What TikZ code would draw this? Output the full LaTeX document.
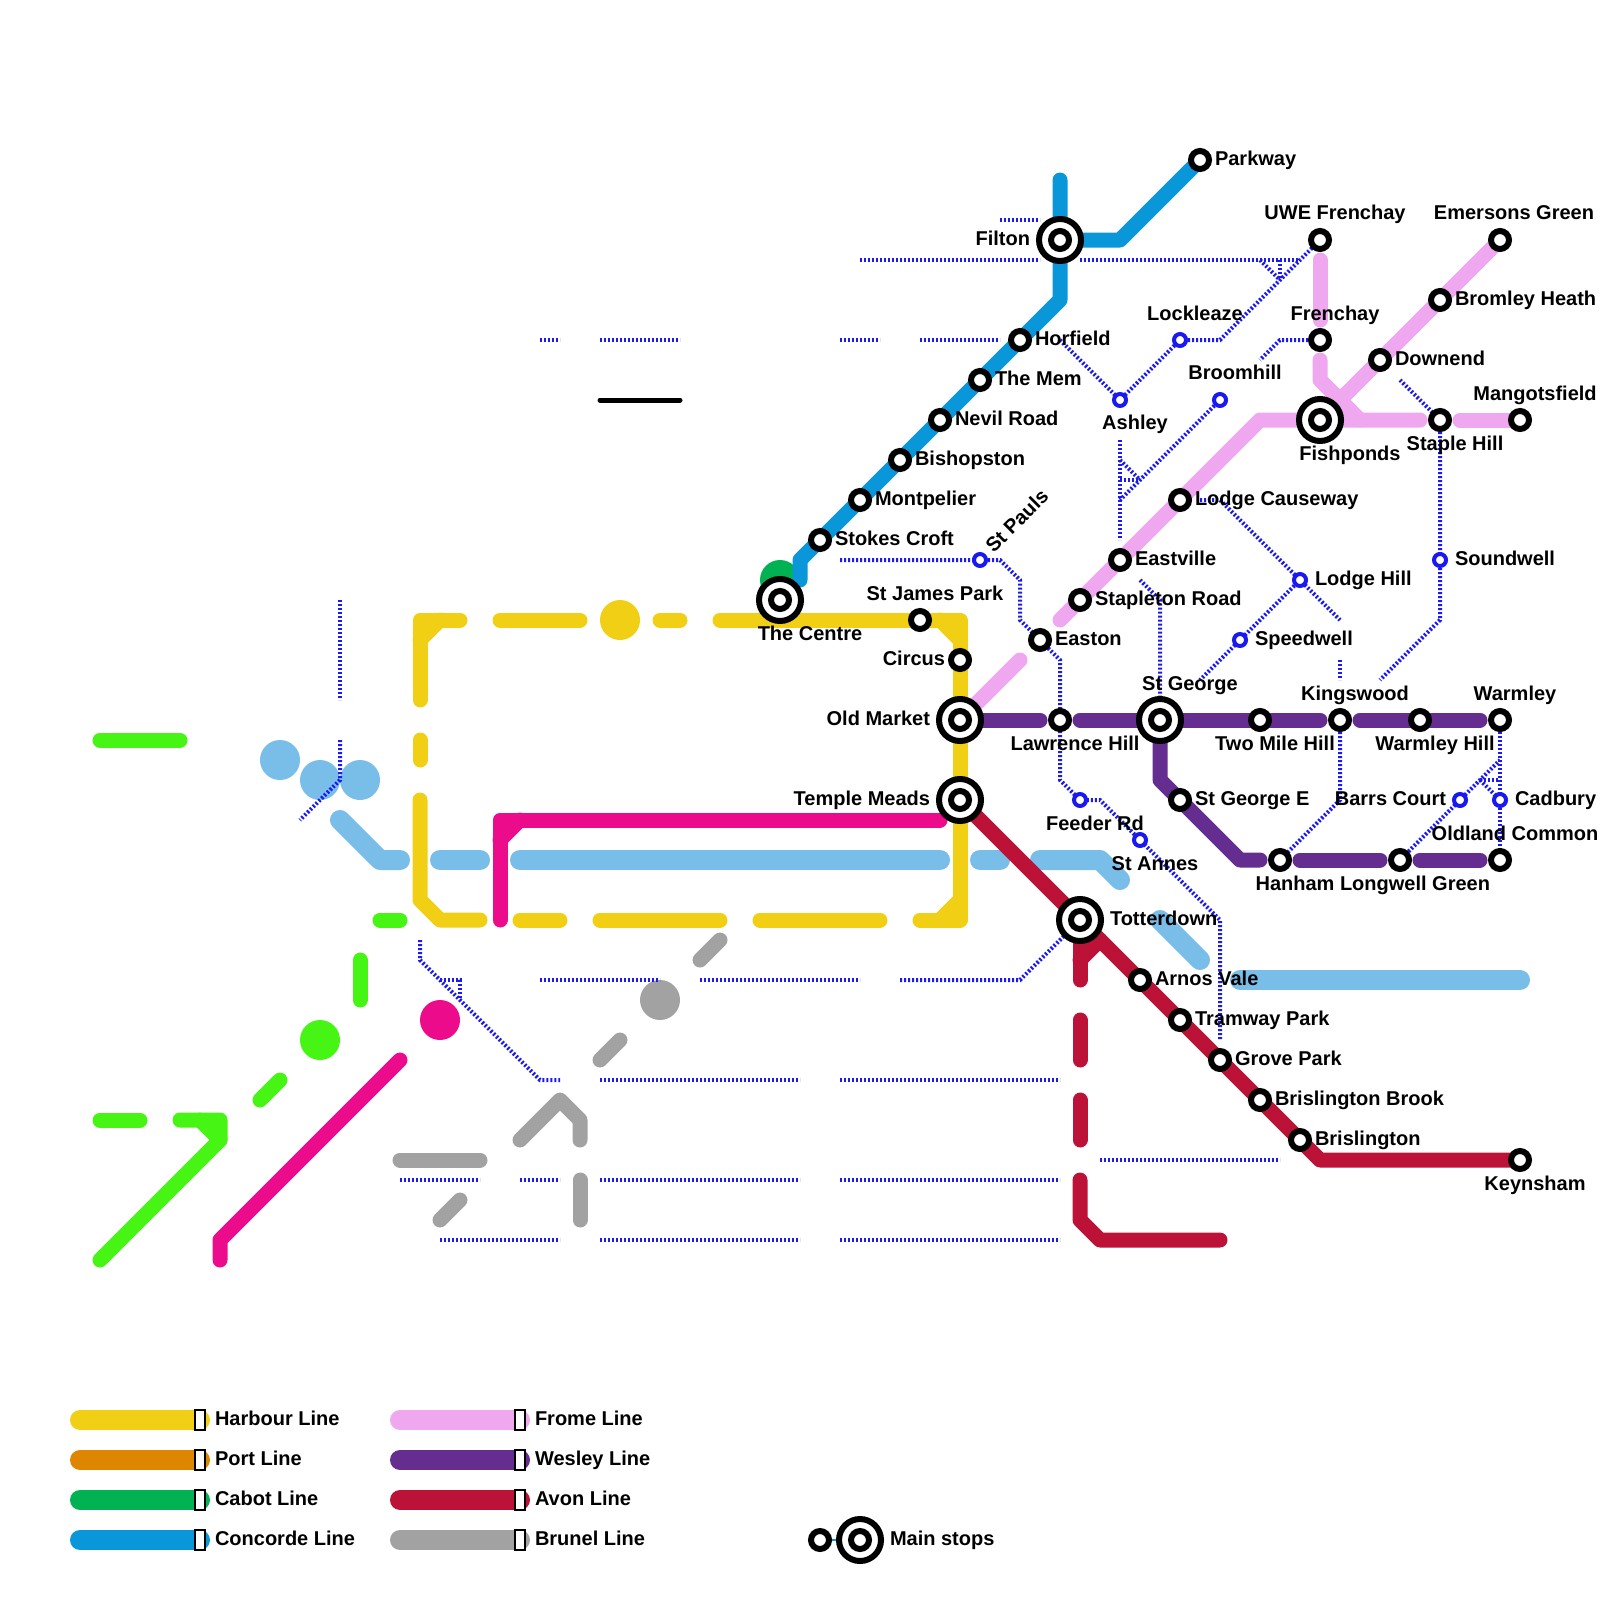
\documentclass[tikz,border=0pt]{standalone}
\usepackage{fontspec}
\setmainfont{Liberation Sans}[BoldFont={Liberation Sans Bold}]
\definecolor{cHarbour}{HTML}{F0CF15}
\definecolor{cPort}{HTML}{DF8600}
\definecolor{cCabot}{HTML}{00B251}
\definecolor{cConcorde}{HTML}{0A97D9}
\definecolor{cFrome}{HTML}{EFA7F0}
\definecolor{cWesley}{HTML}{662D91}
\definecolor{cAvon}{HTML}{BC1238}
\definecolor{cBrunel}{HTML}{A2A2A2}
\definecolor{cMagenta}{HTML}{EC0B8B}
\definecolor{cSky}{HTML}{79BDE9}
\definecolor{cLime}{HTML}{46F513}
\definecolor{cDot}{HTML}{1A1AF0}
\tikzset{
  ln/.style={line width=15pt,line cap=round,line join=round},
  wide/.style={line width=20pt,line cap=round,line join=round},
  dot/.style={draw=cDot,line width=4pt,dash pattern=on 2pt off 2pt},
  blob/.style={circle,minimum size=40pt,inner sep=0pt,outer sep=0pt,draw=none},
  stopsmall/.style={circle,draw=black,fill=white,line width=6pt,minimum size=18pt,inner sep=0pt,outer sep=0pt},
  stopbig/.style={circle,draw=black,fill=white,line width=6pt,minimum size=42pt,inner sep=0pt,outer sep=0pt},
  stopblue/.style={circle,draw=cDot,fill=white,line width=4pt,minimum size=12pt,inner sep=0pt,outer sep=0pt},
  lab/.style={font=\fontsize{20pt}{22pt}\selectfont\bfseries,inner sep=0pt,outer sep=0pt,text=black,yshift=-5pt},
  rl/.style={lab,anchor=mid west},
  ll/.style={lab,anchor=mid east},
  cl/.style={lab,anchor=mid},
  key/.style={line width=20pt,line cap=round},
  keybox/.style={draw=black,fill=white,line width=2pt,minimum width=10pt,minimum height=20pt,inner sep=0pt,outer sep=0pt},
}
\begin{document}
\begin{tikzpicture}[x=1pt,y=-1pt]
\useasboundingbox (0,0) rectangle (1600,1600);
% stations
\foreach \n/\p in {parkway/{1200,160},filton/{1060,240},uwe/{1320,240},emersons/{1500,240},bromley/{1440,300},frenchay/{1320,340},horfield/{1020,340},lockleaze/{1180,340},mem/{980,380},ashley/{1120,400},broomhill/{1220,400},downend/{1380,360},fishponds/{1320,420},staple/{1440,420},mangots/{1520,420},nevil/{940,420},bishopston/{900,460},montpelier/{860,500},lodgec/{1180,500},stokes/{820,540},stpauls/{980,560},eastville/{1120,560},soundwell/{1440,560},lodgeh/{1300,580},stapleton/{1080,600},centre/{780,600},stjames/{920,620},speedwell/{1240,640},easton/{1040,640},circus/{960,660},oldmarket/{960,720},lawrence/{1060,720},stgeorge/{1160,720},twomile/{1260,720},kingswood/{1340,720},warmleyh/{1420,720},warmley/{1500,720},temple/{960,800},feeder/{1080,800},stgeorgee/{1180,800},barrs/{1460,800},cadbury/{1500,800},stannes/{1140,840},hanham/{1280,860},longwell/{1400,860},oldland/{1500,860},totter/{1080,920},arnos/{1140,980},tramway/{1180,1020},grove/{1220,1060},brisb/{1260,1100},bris/{1300,1140},keynsham/{1520,1160}}
  {\coordinate (\n) at (\p);}
% Cabot and Concorde
\node[blob,fill=cCabot] (cabotblob) at (780,580) {};
\draw[ln,cConcorde] (1060,180) -- (filton) -- (1060,300) -- (horfield) -- (mem) -- (nevil) -- (bishopston) -- (montpelier) -- (stokes) -- (800,560) -- (800,580);
\draw[ln,cConcorde] (filton) -- (1120,240) -- (parkway);
% Harbour
\draw[ln,cHarbour] (460,620) -- (420,620) -- (420,700);
\draw[ln,cHarbour] (420,640) -- (440,620);
\draw[ln,cHarbour] (420,740) -- (420,760);
\draw[ln,cHarbour] (420,800) -- (420,900) -- (440,920) -- (480,920);
\draw[ln,cHarbour] (500,620) -- (580,620);
\node[blob,fill=cHarbour] (harbourblob) at (620,620) {};
\draw[ln,cHarbour] (660,620) -- (680,620);
\draw[ln,cHarbour] (720,620) -- (stjames) -- (960,620) -- (circus) -- (oldmarket) -- (temple) -- (960,920) -- (920,920);
\draw[ln,cHarbour] (940,620) -- (960,640);
\draw[ln,cHarbour] (940,920) -- (960,900);
\draw[ln,cHarbour] (520,920) -- (560,920);
\draw[ln,cHarbour] (600,920) -- (720,920);
\draw[ln,cHarbour] (760,920) -- (880,920);
% Sky
\node[blob,fill=cSky] (sky1) at (280,760) {};
\node[blob,fill=cSky] (sky2) at (320,780) {};
\node[blob,fill=cSky] (sky3) at (360,780) {};
\draw[wide,cSky] (340,820) -- (380,860) -- (400,860);
\draw[wide,cSky] (440,860) -- (480,860);
\draw[wide,cSky] (520,860) -- (940,860);
\draw[wide,cSky] (980,860) -- (1000,860);
\draw[wide,cSky] (1040,860) -- (1100,860) -- (1120,880);
\draw[wide,cSky] (1160,920) -- (1200,960);
\draw[wide,cSky] (1240,980) -- (1520,980);
% Frome
\draw[ln,cFrome] (1320,260) -- (1320,320);
\draw[ln,cFrome] (1320,360) -- (1320,380) -- (1360,420) -- (1420,420);
\draw[ln,cFrome] (stapleton) ++(-20,20) -- (stapleton) -- (eastville) -- (lodgec) -- (1260,420) -- (fishponds) -- (1360,420);
\draw[ln,cFrome] (emersons) -- (bromley) -- (downend) -- (fishponds);
\draw[ln,cFrome] (1460,420) -- (mangots);
\draw[ln,cFrome] (1020,660) -- (oldmarket);
% Wesley
\draw[ln,cWesley] (oldmarket) -- (1040,720);
\draw[ln,cWesley] (1080,720) -- (stgeorge) -- (twomile) -- (1320,720);
\draw[ln,cWesley] (1360,720) -- (warmleyh) -- (1480,720);
\draw[ln,cWesley] (stgeorge) -- (1160,780) -- (stgeorgee) -- (1240,860) -- (1260,860);
\draw[ln,cWesley] (1300,860) -- (1380,860);
\draw[ln,cWesley] (1420,860) -- (1480,860);
% Avon
\draw[ln,cAvon] (temple) -- (totter) -- (arnos) -- (tramway) -- (grove) -- (brisb) -- (bris) -- (1320,1160) -- (keynsham);
\draw[ln,cAvon] (totter) -- (1080,980);
\draw[ln,cAvon] (1080,960) -- (1100,940);
\draw[ln,cAvon] (1080,1020) -- (1080,1060);
\draw[ln,cAvon] (1080,1100) -- (1080,1140);
\draw[ln,cAvon] (1080,1180) -- (1080,1220) -- (1100,1240) -- (1220,1240);
% Magenta
\draw[ln,cMagenta] (500,920) -- (500,820) -- (940,820);
\draw[ln,cMagenta] (500,840) -- (520,820);
\node[blob,fill=cMagenta] (magentablob) at (440,1020) {};
\draw[ln,cMagenta] (400,1060) -- (220,1240) -- (220,1260);
% Lime
\draw[ln,cLime] (100,740) -- (180,740);
\draw[ln,cLime] (380,920) -- (400,920);
\draw[ln,cLime] (360,960) -- (360,1000);
\node[blob,fill=cLime] (limeblob) at (320,1040) {};
\draw[ln,cLime] (280,1080) -- (260,1100);
\draw[ln,cLime] (100,1120) -- (140,1120);
\draw[ln,cLime] (180,1120) -- (220,1120) -- (220,1140) -- (100,1260);
\draw[ln,cLime] (200,1120) -- (220,1140);
% Brunel
\draw[ln,cBrunel] (700,960) -- (720,940);
\node[blob,fill=cBrunel] (brunelblob) at (660,1000) {};
\draw[ln,cBrunel] (600,1060) -- (620,1040);
\draw[ln,cBrunel] (520,1140) -- (560,1100) -- (580,1120) -- (580,1140);
\draw[ln,cBrunel] (580,1180) -- (580,1220);
\draw[ln,cBrunel] (400,1160) -- (480,1160);
\draw[ln,cBrunel] (440,1220) -- (460,1200);
% dotted
\draw[dot] (860,260) -- (1040,260);
\draw[dot] (1080,260) -- (1300,260);
\draw[dot] (1000,220) -- (1040,220);
\draw[dot] (lockleaze) -- (1220,340) -- (uwe);
\draw[dot] (1260,260) -- (1280,280);
\draw[dot] (1280,260) -- (1280,280);
\draw[dot] (horfield) ++(40,0) -- (ashley) -- (lockleaze);
\draw[dot] (540,340) -- (560,340);
\draw[dot] (600,340) -- (680,340);
\draw[dot] (840,340) -- (880,340);
\draw[dot] (920,340) -- (1000,340);
\draw[dot] (frenchay) -- (1280,340) -- (1260,360);
\draw[dot] (1120,440) -- (1120,540);
\draw[dot] (1120,460) -- (1140,480);
\draw[dot] (1120,480) -- (1140,480);
\draw[dot] (broomhill) -- (1120,500);
\draw[dot] (1200,500) -- (1220,500) -- (lodgeh) -- (1340,620);
\draw[dot] (lodgeh) -- (speedwell) -- (1200,680);
\draw[dot] (1340,660) -- (1340,680);
\draw[dot] (staple) -- (soundwell) -- (1440,620) -- (1380,680);
\draw[dot] (1400,380) -- (staple);
\draw[dot] (840,560) -- (stpauls) -- (1000,560) -- (1020,580) -- (1020,620) -- (easton) -- (1060,660) -- (lawrence) -- (1060,780) -- (feeder) -- (1100,800) -- (stannes) -- (1220,920) -- (1220,1040);
\draw[dot] (1140,580) -- (1160,600) -- (stgeorge);
\draw[dot] (kingswood) -- (1340,800) -- (hanham);
\draw[dot] (warmley) -- (cadbury) -- (oldland);
\draw[dot] (longwell) -- (barrs) -- (1500,760);
\draw[dot] (1480,780) -- (1500,800);
\draw[dot] (1480,780) -- (1500,780);
\draw[dot] (340,600) -- (340,700);
\draw[dot] (340,740) -- (340,780) -- (300,820);
\draw[dot] (420,940) -- (420,960) -- (540,1080) -- (560,1080);
\draw[dot] (440,980) -- (460,980) -- (460,1000);
\draw[dot] (540,980) -- (660,980);
\draw[dot] (700,980) -- (860,980);
\draw[dot] (900,980) -- (1020,980) -- (totter);
\draw[dot] (600,1080) -- (800,1080);
\draw[dot] (840,1080) -- (1060,1080);
\draw[dot] (400,1180) -- (480,1180);
\draw[dot] (520,1180) -- (560,1180);
\draw[dot] (600,1180) -- (800,1180);
\draw[dot] (840,1180) -- (1060,1180);
\draw[dot] (440,1240) -- (560,1240);
\draw[dot] (600,1240) -- (800,1240);
\draw[dot] (840,1240) -- (1060,1240);
\draw[dot] (1100,1160) -- (1280,1160);
\coordinate (blackA) at (600,400);
\coordinate (blackB) at (680,400);
\draw[black,line width=5pt,line cap=round] (blackA) -- (blackB);
% small stops
\foreach \n in {parkway,uwe,emersons,bromley,frenchay,horfield,mem,downend,staple,mangots,nevil,bishopston,montpelier,lodgec,stokes,eastville,stapleton,stjames,easton,circus,lawrence,twomile,kingswood,warmleyh,warmley,stgeorgee,hanham,longwell,oldland,arnos,tramway,grove,brisb,bris,keynsham}
  {\node[stopsmall] (\n-stop) at (\n) {};}
\foreach \n in {lockleaze,ashley,broomhill,stpauls,soundwell,lodgeh,speedwell,feeder,barrs,cadbury,stannes}
  {\node[stopblue] (\n-stop) at (\n) {};}
\foreach \n in {filton,fishponds,centre,oldmarket,stgeorge,temple,totter}
  {\node[stopbig] (\n-stop) at (\n) {}; \node[stopsmall] (\n-core) at (\n) {};}
% labels
\node[rl] (t1) at (1215,158) {Parkway};
\node[ll] (t2) at (1030,238) {Filton};
\node[cl] (t3) at (1335,212) {UWE Frenchay};
\node[cl] (t4) at (1514,212) {Emersons Green};
\node[rl] (t5) at (1455,298) {Bromley Heath};
\node[cl] (t6) at (1335,313) {Frenchay};
\node[rl] (t7) at (1035,338) {Horfield};
\node[cl] (t8) at (1195,313) {Lockleaze};
\node[rl] (t9) at (995,378) {The Mem};
\node[cl] (t10) at (1135,422) {Ashley};
\node[cl] (t11) at (1235,372) {Broomhill};
\node[rl] (t12) at (1395,358) {Downend};
\node[cl] (t13) at (1350,453) {Fishponds};
\node[cl] (t14) at (1455,443) {Staple Hill};
\node[cl] (t15) at (1535,393) {Mangotsfield};
\node[rl] (t16) at (955,418) {Nevil Road};
\node[rl] (t17) at (915,458) {Bishopston};
\node[rl] (t18) at (875,498) {Montpelier};
\node[rl] (t19) at (1195,498) {Lodge Causeway};
\node[rl] (t20) at (835,538) {Stokes Croft};
\node[rl,rotate=45] (t21) at (992,547) {St Pauls};
\node[rl] (t22) at (1135,558) {Eastville};
\node[rl] (t23) at (1455,558) {Soundwell};
\node[rl] (t24) at (1315,578) {Lodge Hill};
\node[rl] (t25) at (1095,598) {Stapleton Road};
\node[cl] (t26) at (810,633) {The Centre};
\node[cl] (t27) at (935,593) {St James Park};
\node[rl] (t28) at (1255,638) {Speedwell};
\node[rl] (t29) at (1055,638) {Easton};
\node[ll] (t30) at (945,658) {Circus};
\node[ll] (t31) at (930,718) {Old Market};
\node[cl] (t32) at (1075,743) {Lawrence Hill};
\node[cl] (t33) at (1190,683) {St George};
\node[cl] (t34) at (1275,743) {Two Mile Hill};
\node[cl] (t35) at (1355,693) {Kingswood};
\node[cl] (t36) at (1435,743) {Warmley Hill};
\node[cl] (t37) at (1515,693) {Warmley};
\node[ll] (t38) at (930,798) {Temple Meads};
\node[cl] (t39) at (1095,823) {Feeder Rd};
\node[rl] (t40) at (1195,798) {St George E};
\node[ll] (t41) at (1446,798) {Barrs Court};
\node[rl] (t42) at (1515,798) {Cadbury};
\node[cl] (t43) at (1155,863) {St Annes};
\node[cl] (t44) at (1295,883) {Hanham};
\node[cl] (t45) at (1415,883) {Longwell Green};
\node[cl] (t46) at (1515,833) {Oldland Common};
\node[rl] (t47) at (1110,918) {Totterdown};
\node[rl] (t48) at (1155,978) {Arnos Vale};
\node[rl] (t49) at (1195,1018) {Tramway Park};
\node[rl] (t50) at (1235,1058) {Grove Park};
\node[rl] (t51) at (1275,1098) {Brislington Brook};
\node[rl] (t52) at (1315,1138) {Brislington};
\node[cl] (t53) at (1535,1183) {Keynsham};
% legend
\foreach \i/\c/\t/\yy in {a/cHarbour/Harbour Line/1420,b/cPort/Port Line/1460,c/cCabot/Cabot Line/1500,d/cConcorde/Concorde Line/1540}{
  \coordinate (k\i1) at (80,\yy); \coordinate (k\i2) at (200,\yy);
  \draw[key,\c] (k\i1) -- (k\i2);
  \node[keybox] (kb\i) at (200,\yy) {};
  \node[rl] (kt\i) at (215,\yy-2) {\t};
}
\foreach \i/\c/\t/\yy in {e/cFrome/Frome Line/1420,f/cWesley/Wesley Line/1460,g/cAvon/Avon Line/1500,h/cBrunel/Brunel Line/1540}{
  \coordinate (k\i1) at (400,\yy); \coordinate (k\i2) at (520,\yy);
  \draw[key,\c] (k\i1) -- (k\i2);
  \node[keybox] (kb\i) at (520,\yy) {};
  \node[rl] (kt\i) at (535,\yy-2) {\t};
}
\coordinate (ms1) at (820,1540);
\coordinate (ms2) at (860,1540);
\draw[cConcorde,line width=2pt] (ms1) -- (ms2);
\node[stopsmall] (ms1stop) at (ms1) {};
\node[stopbig] (ms2stop) at (ms2) {};
\node[stopsmall] (ms2core) at (ms2) {};
\node[rl] (mstext) at (890,1538) {Main stops};
\end{tikzpicture}
\end{document}
